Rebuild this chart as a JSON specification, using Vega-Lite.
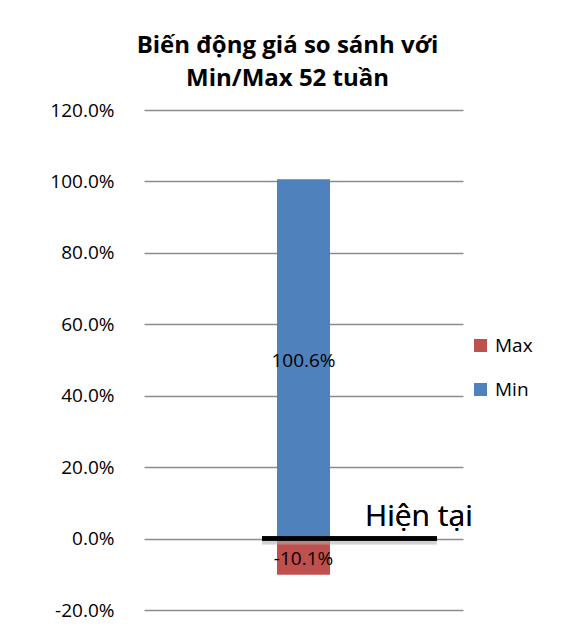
{
  "$schema": "https://vega.github.io/schema/vega-lite/v6.json",
  "width": 319,
  "height": 500,
  "autosize": {"type": "none"},
  "padding": {"left": 144, "top": 110, "right": 98, "bottom": 23},
  "background": "white",
  "title": {
    "text": ["Biến động giá so sánh với", "Min/Max 52 tuần"],
    "font": "Open Sans",
    "fontSize": 24,
    "fontWeight": "bold",
    "color": "black",
    "anchor": "middle",
    "lineHeight": 33,
    "offset": 10,
    "dx": -16
  },
  "config": {
    "view": {"stroke": null},
    "font": "Open Sans",
    "locale": {
      "number": {"decimal": ".", "thousands": ",", "grouping": [3], "currency": ["$", ""], "minus": "-"}
    }
  },
  "data": {
    "values": [
      {"series": "Min", "value": 1.006},
      {"series": "Max", "value": -0.101}
    ]
  },
  "layer": [
    {
      "mark": {"type": "bar", "size": 53},
      "encoding": {
        "x": {"datum": 5, "type": "quantitative", "scale": {"domain": [0, 10], "padding": 0, "nice": false, "zero": false}, "axis": null},
        "y": {
          "field": "value",
          "type": "quantitative",
          "stack": null,
          "scale": {"domain": [-0.2, 1.2], "nice": false},
          "axis": {
            "title": null,
            "format": ".1%",
            "values": [-0.2, 0, 0.2, 0.4, 0.6, 0.8, 1.0, 1.2],
            "domain": false,
            "ticks": false,
            "labelFont": "Open Sans",
            "labelFontSize": 19,
            "labelColor": "black",
            "labelPadding": 30,
            "gridColor": "#8c8c8c",
            "gridWidth": 1.5
          }
        },
        "y2": {"datum": 0},
        "color": {
          "field": "series",
          "type": "nominal",
          "scale": {"domain": ["Max", "Min"], "range": ["#C0504D", "#4F81BD"]},
          "legend": {
            "title": null,
            "orient": "none",
            "legendX": 327,
            "legendY": 226,
            "symbolType": "square",
            "symbolSize": 169,
            "symbolStrokeWidth": 0,
            "labelFont": "Open Sans",
            "labelFontSize": 19,
            "labelColor": "black",
            "rowPadding": 24,
            "labelOffset": 5
          }
        }
      }
    },
    {
      "mark": {"type": "rule", "color": "#b0b0b0", "strokeWidth": 8, "opacity": 0.35, "yOffset": 2},
      "encoding": {
        "x": {"datum": 3.7, "type": "quantitative"},
        "x2": {"datum": 9.18},
        "y": {"datum": 0, "type": "quantitative"}
      }
    },
    {
      "mark": {"type": "rule", "color": "black", "strokeWidth": 4.5},
      "encoding": {
        "x": {"datum": 3.7, "type": "quantitative"},
        "x2": {"datum": 9.18},
        "y": {"datum": 0, "type": "quantitative"}
      }
    },
    {
      "transform": [{"calculate": "datum.value / 2", "as": "mid"}],
      "mark": {"type": "text", "fontSize": 19, "font": "Open Sans", "color": "black", "baseline": "middle", "align": "center", "dy": 2},
      "encoding": {
        "x": {"datum": 5, "type": "quantitative"},
        "y": {"field": "mid", "type": "quantitative"},
        "text": {"field": "value", "type": "quantitative", "format": ".1%"}
      }
    },
    {
      "mark": {"type": "text", "fontSize": 30, "font": "Open Sans", "color": "black", "baseline": "alphabetic", "align": "left"},
      "encoding": {
        "x": {"datum": 6.93, "type": "quantitative"},
        "y": {"datum": 0.036, "type": "quantitative"},
        "text": {"value": "Hiện tại"}
      }
    }
  ]
}
